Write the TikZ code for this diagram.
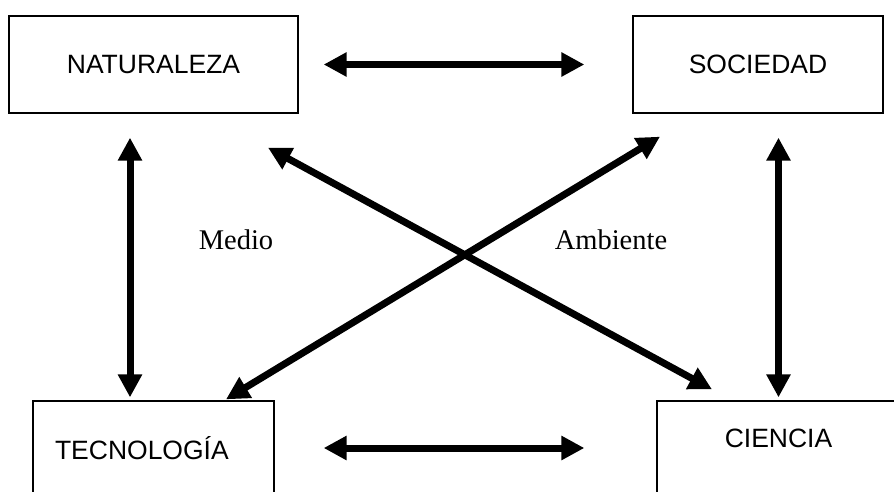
\documentclass[tikz,border=0pt]{standalone}
\usepackage{fontspec}
\setmainfont{Liberation Serif}
\setsansfont{Liberation Sans}
\usepackage{tikz}
\usetikzlibrary{positioning,calc,arrows.meta}

\begin{document}
\begin{tikzpicture}[x=1pt, y=-1pt,
    box/.style={draw, line width=1.3pt, font=\sffamily\fontsize{26.5}{30}\selectfont, inner sep=0pt},
    dbl/.style={line width=7pt, {Triangle[length=23pt,width=23pt]}-{Triangle[length=23pt,width=23pt]}}]
    \useasboundingbox (0,0) rectangle (894,491);
    \clip (0,0) rectangle (894,491);

    % Boxes
    \node[box, minimum width=289pt, minimum height=97pt] (nat) at (153.5,64.5) {NATURALEZA};
    \node[box, minimum width=250pt, minimum height=97pt] (soc) at (758,64.5) {SOCIEDAD};
    \node[box, minimum width=241pt, minimum height=94pt, text width=197pt, align=left] (tec) at (153.5,448) {TECNOLOG\'IA};
    \node[box, minimum width=243pt, minimum height=94pt, text depth=20pt] (cie) at (778.5,448) {CIENCIA};

    % Horizontal arrows
    \draw[dbl, shorten <=25pt, shorten >=48pt] (nat.east) -- (soc.west);
    \draw[dbl, shorten <=49pt, shorten >=72pt] (tec.east) -- (cie.west);

    % Vertical arrows
    \draw[dbl, shorten <=24pt, shorten >=3pt] ([xshift=-23.5pt]nat.south) -- ([xshift=-23.5pt]tec.north);
    \draw[dbl, shorten <=24pt, shorten >=3pt] (soc.south -| cie.north) -- (cie.north);

    % Diagonals
    \draw[dbl] ([xshift=114.5pt,yshift=-34pt]nat.south) -- ([xshift=-66.5pt,yshift=11pt]cie.north);
    \draw[dbl] ([xshift=-98pt,yshift=-23pt]soc.south) -- ([xshift=72.5pt,yshift=1pt]tec.north);

    % Labels
    \node[font=\fontsize{28.5}{32}\selectfont] (medio) at (236,240) {Medio};
    \node[font=\fontsize{28.5}{32}\selectfont] (amb) at (611,240) {Ambiente};
\end{tikzpicture}
\end{document}
